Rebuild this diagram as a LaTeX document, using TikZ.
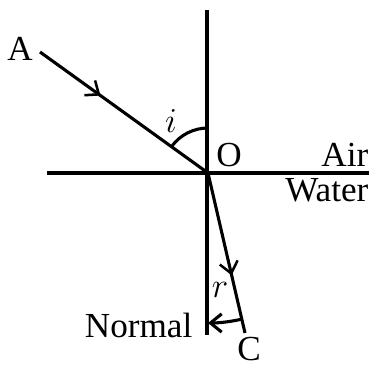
\documentclass[tikz,border=0pt]{standalone}
\usepackage{fontspec}
\setmainfont{Liberation Serif}
\usetikzlibrary{decorations.markings,arrows.meta,positioning}
\tikzset{
  ray/.style={
    line width=2.2pt,
  },
  midarrow/.style={
    postaction={decorate},
    decoration={markings,
      mark=at position #1 with {\arrow{Straight Barb[length=8pt,width=13pt,line width=1.8pt]}}}
  },
  lbl/.style={
    inner sep=1pt,
    font=\fontsize{25}{30}\selectfont
  },
}
\begin{document}
\begin{tikzpicture}[x=0.025cm,y=0.025cm]
 \useasboundingbox (0,0) rectangle (369,366);
 \coordinate (O) at (208,193);
 \coordinate (A) at (40,314);
 \coordinate (C) at (245,33);
 \coordinate (ntop) at (207,356);
 \coordinate (nbot) at (207,31);
 \coordinate (sl) at (47,193);
 \coordinate (sr) at (369,193);
 % normal and surface
 \draw[ray] (ntop) -- (nbot);
 \draw[ray] (sl) -- (sr);
 % rays
 \draw[ray, midarrow=0.36] (A) -- (O);
 \draw[ray, midarrow=0.64] (O) -- (C);
 % angles
 \draw[ray] ([shift={(90:45)}]O) arc (90:144:45);
 \draw[ray, -{Straight Barb[length=8pt,width=13pt]}] ([shift={(-76.6:150)}]O) arc (-76.6:-90:150);
 % labels
 \node[lbl] (lA) at (20,317) {A};
 \node[lbl] (li) at (171,245) {$i$};
 \node[lbl] (lO) at (229,211) {O};
 \node[lbl, anchor=east] (lair) at (370,211) {Air};
 \node[lbl, anchor=east] (lwater) at (370,176) {Water};
 \node[lbl] (lr) at (220,76) {$r$};
 \node[lbl, anchor=east] (lnormal) at (194,41) {Normal};
 \node[lbl] (lC) at (249,17) {C};
\end{tikzpicture}
\end{document}
